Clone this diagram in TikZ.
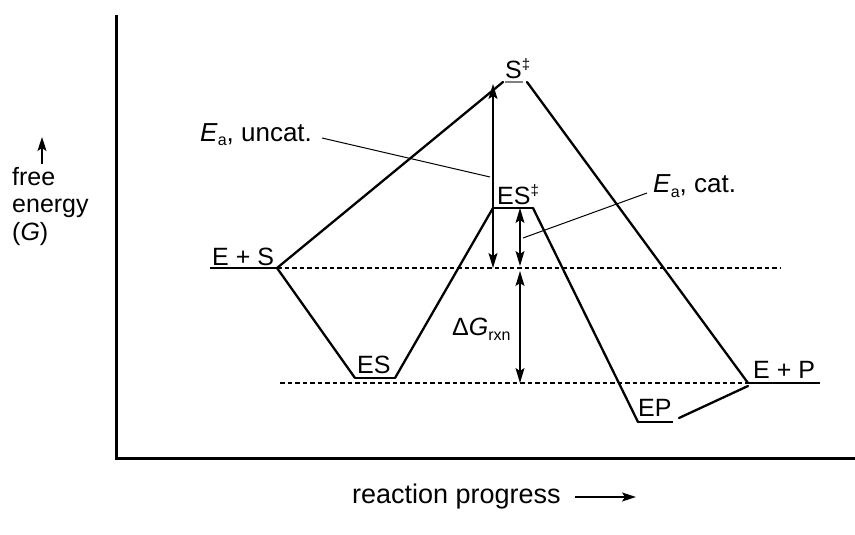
\documentclass[tikz,border=0pt]{standalone}
\usepackage{fontspec}
\setmainfont{Liberation Sans}
\usetikzlibrary{arrows.meta}
\begin{document}
\begin{tikzpicture}[x=1pt,y=-1pt,
  lbl/.style={font=\fontsize{25}{28}\selectfont, inner sep=0pt, anchor=base west},
  prof/.style={line width=2.3pt, line cap=round},
  lvl/.style={line width=1.4pt},
  guide/.style={line width=1.2pt, dash pattern=on 4.5pt off 3pt},
  dbl/.style={line width=1.2pt, {Stealth[length=15pt,width=9pt,inset=3pt]}-{Stealth[length=15pt,width=9pt,inset=3pt]}},
  leader/.style={line width=1pt},
  axisarrow/.style={line width=1.4pt, -{Stealth[length=14pt,width=9pt,inset=3pt]}}]
\useasboundingbox (0,0) rectangle (855,535);
\newcommand{\subsc}[1]{\raisebox{-5pt}{\fontsize{16}{16}\selectfont #1}}
\newcommand{\supsc}[1]{\raisebox{9pt}{\fontsize{15}{15}\selectfont #1}}

% axes
\coordinate (ytop) at (116,15);
\coordinate (orig) at (116,458);
\coordinate (xend) at (855,458);
\draw[line width=3pt] (ytop) -- (orig) -- (xend);

% levels
\coordinate (esA) at (210,268); \coordinate (esB) at (277,268);
\coordinate (cA) at (355,378);  \coordinate (cB) at (395,378);
\coordinate (tA) at (493,208);  \coordinate (tB) at (533,208);
\coordinate (uA) at (503,82);   \coordinate (uB) at (527,82);
\coordinate (uL) at (505,82);   \coordinate (uR) at (523,82);
\coordinate (pA) at (638,422);  \coordinate (pB) at (673,422);
\coordinate (pC) at (679,418);
\coordinate (epA) at (748,383); \coordinate (epB) at (820,383);
\coordinate (epC) at (748,386);

% dashed guides
\coordinate (g1a) at (277,268); \coordinate (g1b) at (780,268);
\coordinate (g2a) at (280,383); \coordinate (g2b) at (748,383);
\draw[guide] (g1a) -- (g1b);
\draw[guide] (g2a) -- (g2b);

% level underlines
\draw[lvl] (esA) -- (esB);
\draw[lvl] (cA) -- (cB);
\draw[lvl] (tA) -- (tB);
\draw[line width=1.2pt, gray] (uL) -- (uR);
\draw[lvl] (pA) -- (pB);
\draw[lvl] (epA) -- (epB);

% profiles
\draw[prof] (esB) -- (uA);
\draw[prof] (uB) -- (epA);
\draw[prof] (esB) -- (cA);
\draw[prof] (cB) -- (tA);
\draw[prof] (tB) -- (pA);
\draw[prof] (pC) -- (epC);

% energy arrows
\coordinate (a1b) at (493,268); \coordinate (a1t) at (493,84);
\coordinate (a2t) at (520,208); \coordinate (a2b) at (520,266);
\coordinate (a3t) at (520,271); \coordinate (a3b) at (520,383);
\draw[dbl] (a1b) -- (a1t);
\draw[dbl] (a2t) -- (a2b);
\draw[dbl] (a3t) -- (a3b);

% labels
\node[lbl] (lES) at (212,265) {E + S};
\node[lbl] (lC) at (357,373) {ES};
\node[lbl] (lT) at (497,204) {ES\supsc{‡}};
\node[lbl] (lU) at (505,78) {S\supsc{‡}};
\node[lbl] (lP) at (638,416) {EP};
\node[lbl] (lEP) at (753,378) {E + P};
\node[lbl, font=\fontsize{26}{28}\selectfont] (lun) at (200,141) {\textit{E}\subsc{a}, uncat.};
\node[lbl, font=\fontsize{26}{28}\selectfont] (lca) at (653,192) {\textit{E}\subsc{a}, cat.};
\node[lbl] (ldg) at (452,335) {Δ\textit{G}\subsc{rxn}};

% leaders
\coordinate (l1a) at (322,138); \coordinate (l1b) at (490,177);
\coordinate (l2a) at (647,193); \coordinate (l2b) at (523,238);
\draw[leader] (l1a) -- (l1b);
\draw[leader] (l2a) -- (l2b);

% axis labels
\node[lbl] (f1) at (12,185) {free};
\node[lbl] (f2) at (12,212) {energy};
\node[lbl] (f3) at (12,240) {(\textit{G})};
\coordinate (ya) at (42,164); \coordinate (yb) at (42,137);
\draw[axisarrow] (ya) -- (yb);
\node[lbl, font=\fontsize{27}{30}\selectfont] (rp) at (352,503) {reaction progress};
\coordinate (xa) at (575,497); \coordinate (xb) at (636,497);
\draw[axisarrow] (xa) -- (xb);
\end{tikzpicture}
\end{document}
